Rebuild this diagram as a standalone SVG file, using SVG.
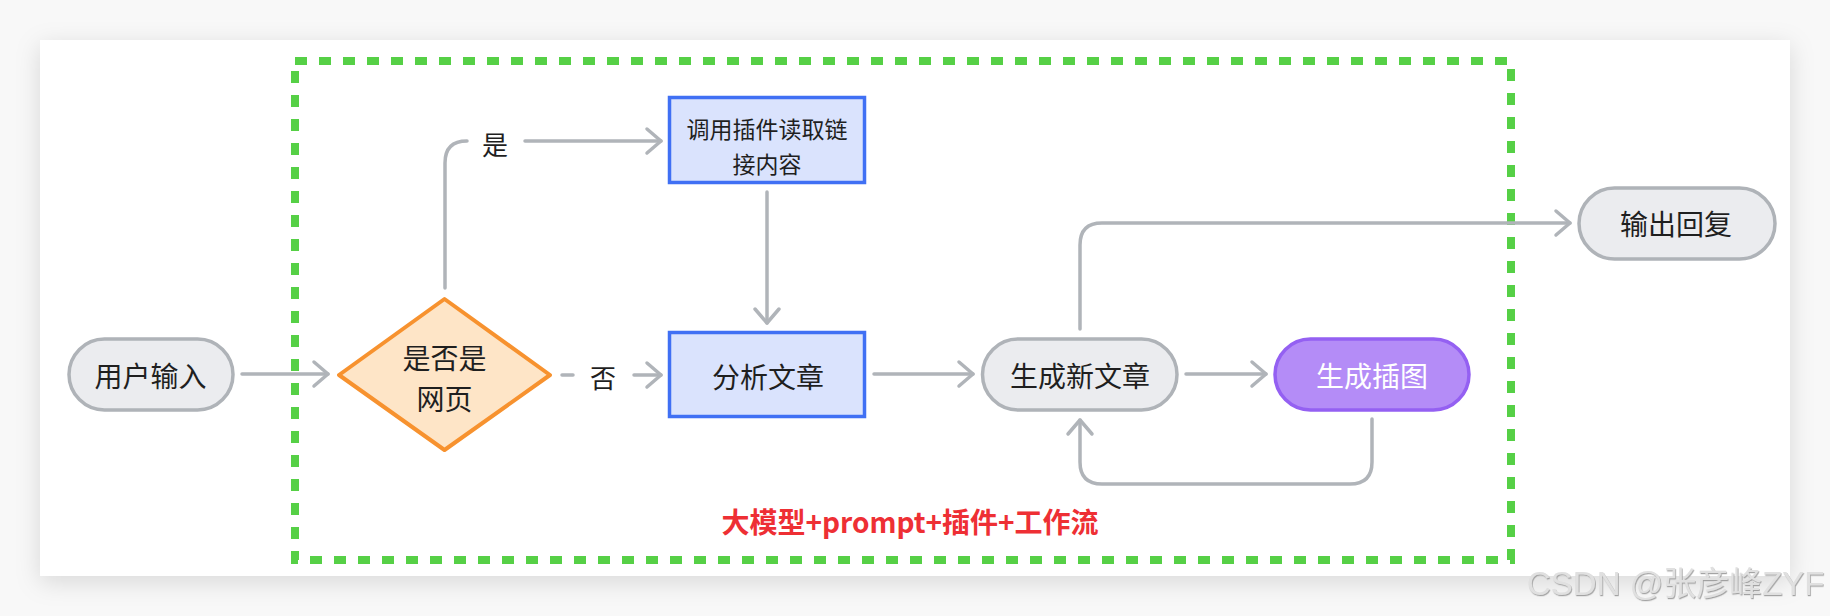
<svg xmlns="http://www.w3.org/2000/svg" width="1830" height="616" viewBox="0 0 1830 616">
  <defs>
    <filter id="cardShadow" x="-5%" y="-10%" width="110%" height="125%">
      <feDropShadow dx="0" dy="6" stdDeviation="12" flood-color="#000" flood-opacity="0.13"/>
    </filter>
    <filter id="emboss" x="-5%" y="-20%" width="110%" height="140%">
      <feDropShadow dx="0.8" dy="1.2" stdDeviation="0.6" flood-color="#9a9a9a" flood-opacity="0.9"/>
    </filter>
    <marker id="arr" viewBox="-18 -16 22 32" refX="0" refY="0" markerWidth="22" markerHeight="32" markerUnits="userSpaceOnUse" orient="auto">
      <path d="M-14,-12 L0,0 L-14,12" fill="none" stroke="#b0b4b9" stroke-width="3.5" stroke-linecap="round" stroke-linejoin="round"/>
    </marker>
    <style>
      .pill { fill: #ebecef; stroke: #afb3b8; stroke-width: 3.5; }
      .box { fill: #dae3fd; stroke: #4070f4; stroke-width: 3.5; }
      .dia { fill: #fee5c7; stroke: #f7922f; stroke-width: 4; stroke-linejoin: round; }
      .purple { fill: #b48cf7; stroke: #9460f2; stroke-width: 3.5; }
      .t { font-family: "Noto Sans CJK SC", "Noto Sans", sans-serif; font-size: 28px; fill: #1f1f1f; text-anchor: middle; dominant-baseline: central; }
      .ts { font-size: 23px; }
      .tw { fill: #ffffff; }
      .lbl { font-family: "Noto Sans CJK SC", "Noto Sans", sans-serif; font-size: 26px; fill: #1f1f1f; text-anchor: middle; dominant-baseline: central; }
      .conn { fill: none; stroke: #b0b4b9; stroke-width: 3.5; stroke-linecap: round; stroke-linejoin: round; }
      .arrow { marker-end: url(#arr); }
    </style>
  </defs>

  <rect x="0" y="0" width="1830" height="616" fill="#f8f8f8"/>
  <rect id="card" x="40" y="40" width="1750" height="536" fill="#ffffff" filter="url(#cardShadow)"/>

  <g id="group-frame">
    <rect x="295" y="61" width="1216" height="499" fill="none" stroke="#56d046" stroke-width="8" stroke-dasharray="12 12"/>
    <text x="910" y="521" font-family="'Noto Sans CJK SC', 'Noto Sans', sans-serif" font-size="28" font-weight="bold" fill="#ee2f34" text-anchor="middle" dominant-baseline="central">大模型+prompt+插件+工作流</text>
  </g>

  <g id="connectors">
    <path class="conn arrow" d="M242,374 H328"/>
    <path class="conn" d="M445,288 V163 Q445,141 467,141"/>
    <path class="conn arrow" d="M525,141 H661"/>
    <path class="conn" d="M562,375 H573"/>
    <path class="conn arrow" d="M634,375 H661"/>
    <path class="conn arrow" d="M767,192 V323"/>
    <path class="conn arrow" d="M874,374 H973"/>
    <path class="conn arrow" d="M1186,374 H1266"/>
    <path class="conn arrow" d="M1372,419 V462 Q1372,484 1350,484 H1102 Q1080,484 1080,462 V420"/>
    <path class="conn arrow" d="M1080,329 V245 Q1080,223 1102,223 H1570"/>
    <text class="lbl" x="495" y="143">是</text>
    <text class="lbl" x="603" y="376">否</text>
  </g>

  <g id="node-input">
    <rect class="pill" x="69" y="339" width="164" height="71" rx="35.5"/>
    <text class="t" x="150.5" y="375">用户输入</text>
  </g>

  <g id="node-decision">
    <polygon class="dia" points="339,375 444.5,299 550,375 444.5,450"/>
    <text class="t" x="444.5" y="357">是否是</text>
    <text class="t" x="444.5" y="398">网页</text>
  </g>

  <g id="node-plugin">
    <rect class="box" x="669.5" y="97.5" width="195" height="85"/>
    <text class="t ts" x="767" y="128">调用插件读取链</text>
    <text class="t ts" x="767" y="162.5">接内容</text>
  </g>

  <g id="node-analyze">
    <rect class="box" x="669.5" y="332.5" width="195" height="84"/>
    <text class="t" x="768" y="376">分析文章</text>
  </g>

  <g id="node-generate">
    <rect class="pill" x="982.5" y="339" width="194.5" height="71" rx="35.5"/>
    <text class="t" x="1080" y="375">生成新文章</text>
  </g>

  <g id="node-illustrate">
    <rect class="purple" x="1275" y="339" width="194" height="71" rx="35.5"/>
    <text class="t tw" x="1372" y="375">生成插图</text>
  </g>

  <g id="node-output">
    <rect class="pill" x="1579" y="188" width="196" height="71" rx="35.5"/>
    <text class="t" x="1676" y="223">输出回复</text>
  </g>

  <text id="watermark" x="1527" y="595" font-family="'Liberation Sans', 'Noto Sans CJK SC', sans-serif" font-size="33" fill="#e0e0e0" filter="url(#emboss)">CSDN @张彦峰ZYF</text>
</svg>
